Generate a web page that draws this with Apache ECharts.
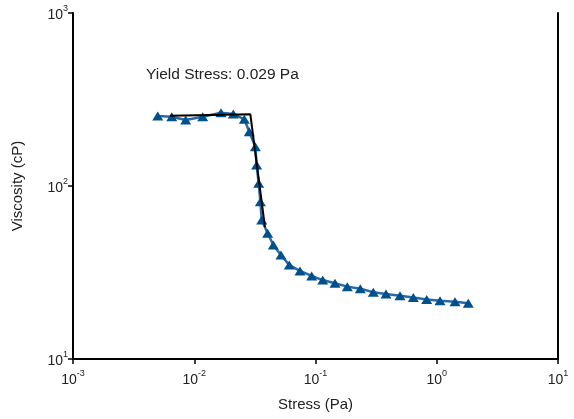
<!DOCTYPE html>
<html>
<head>
<meta charset="utf-8">
<script src="https://cdn.jsdelivr.net/npm/echarts@6/dist/echarts.min.js"></script>
<style>
html,body{margin:0;padding:0;background:#fff;}
#c{width:574px;height:419px;}
</style>
</head>
<body>
<div id="c"></div>
<script>
// Measured data (Stress in Pa, Viscosity in cP)
const stress = [0.00500, 0.00652, 0.00850, 0.01174, 0.01662, 0.02100, 0.02587, 0.02844, 0.0319, 0.0327, 0.0340, 0.0351, 0.0360, 0.0403, 0.0449, 0.0519, 0.0608, 0.0745, 0.0930, 0.1147, 0.1448, 0.1829, 0.2342, 0.2997, 0.3814, 0.4976, 0.6406, 0.8263, 1.064, 1.414, 1.820];
const viscosity = [253.9, 251.5, 240.8, 251.5, 265.3, 260.8, 243.0, 206.0, 168.7, 132.2, 103.7, 81.1, 63.6, 53.3, 45.6, 39.9, 34.9, 32.3, 30.2, 28.6, 27.4, 26.2, 25.5, 24.3, 23.75, 23.2, 22.7, 22.1, 21.7, 21.4, 21.0];
// Yield stress fit lines
const fitStress = [0.0063, 0.029, 0.0383];
const fitViscosity = [255, 260, 57.9];
const annotation = 'Yield Stress: 0.029 Pa';
const xAxisName = 'Stress (Pa)';
const yAxisName = 'Viscosity (cP)';
const xRange = [0.001, 10];
const yRange = [10, 1000];

function powLabel(v){
  const e = Math.round(Math.log10(v));
  return '{b|10}{s|' + e + '}';
}
const FONT = 'Liberation Sans';
const richLab = {
  b:{fontSize:14, fontFamily:FONT, color:'#222', lineHeight:18, verticalAlign:'bottom'},
  s:{fontSize:9, fontFamily:FONT, color:'#222', lineHeight:18, verticalAlign:'top'}
};

const chart = echarts.init(document.getElementById('c'), null, {renderer:'canvas'});
chart.setOption({
  animation:false,
  backgroundColor:'#fff',
  grid:{left:73, right:16, top:13, bottom:60},
  xAxis:{
    type:'log', logBase:10, min:xRange[0], max:xRange[1],
    name:xAxisName, nameLocation:'middle', nameGap:38,
    nameTextStyle:{fontSize:15, fontFamily:FONT, color:'#222'},
    axisLine:{show:true, onZero:false, lineStyle:{color:'#000', width:2}},
    axisTick:{show:true, inside:false, length:5, lineStyle:{color:'#000', width:1.5}},
    minorTick:{show:false},
    splitLine:{show:false},
    axisLabel:{formatter:powLabel, rich:richLab, margin:10}
  },
  yAxis:[{
    type:'log', logBase:10, min:yRange[0], max:yRange[1],
    name:yAxisName, nameLocation:'middle', nameGap:48, nameRotate:90,
    nameTextStyle:{fontSize:15, fontFamily:FONT, color:'#222'},
    axisLine:{show:true, onZero:false, lineStyle:{color:'#000', width:2}},
    axisTick:{show:true, inside:false, length:5, lineStyle:{color:'#000', width:1.5}},
    splitLine:{show:false},
    axisLabel:{formatter:powLabel, rich:richLab, margin:5}
  },{
    type:'log', logBase:10, min:yRange[0], max:yRange[1], position:'right',
    axisLine:{show:true, onZero:false, lineStyle:{color:'#000', width:2}},
    axisTick:{show:false}, axisLabel:{show:false}, splitLine:{show:false}
  }],
  graphic:[{
    type:'text', left:146, top:67,
    style:{text:annotation, fontSize:15.5, fontFamily:FONT, fill:'#222'}
  }],
  series:[{
    type:'line',
    data:stress.map((s,i)=>[s, viscosity[i]]),
    symbol:'triangle', symbolSize:[11,9],
    lineStyle:{color:'#2b6aa8', width:2.5},
    itemStyle:{color:'#00508c'},
    z:2
  },{
    type:'line',
    data:fitStress.map((s,i)=>[s, fitViscosity[i]]),
    symbol:'none',
    lineStyle:{color:'#000', width:2},
    z:3
  }]
});
</script>
</body>
</html>
